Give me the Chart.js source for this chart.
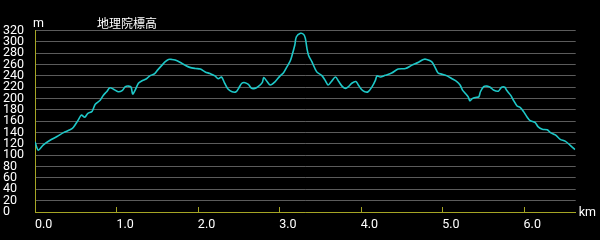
<!DOCTYPE html>
<html>
<head>
<meta charset="utf-8">
<script src="https://cdn.jsdelivr.net/npm/chart.js@4"></script>
<style>
  html, body { margin: 0; padding: 0; background: #000; }
  #wrap { position: relative; width: 600px; height: 240px; }
</style>
</head>
<body>
<div id="wrap"><canvas id="elevChart"></canvas></div>
<script>
// distance along the route (km) and elevation (m)
const distKm = [0.00,0.04,0.10,0.18,0.27,0.35,0.43,0.47,0.53,0.57,
  0.61,0.65,0.70,0.74,0.80,0.84,0.88,0.92,0.97,1.02,
  1.07,1.11,1.15,1.18,1.20,1.23,1.27,1.31,1.37,1.41,
  1.47,1.51,1.56,1.60,1.64,1.68,1.72,1.78,1.84,1.90,
  1.97,2.03,2.09,2.15,2.21,2.25,2.29,2.33,2.37,2.42,
  2.47,2.50,2.54,2.58,2.62,2.66,2.70,2.74,2.79,2.81,
  2.85,2.89,2.95,3.01,3.05,3.09,3.13,3.15,3.19,3.21,
  3.26,3.30,3.32,3.34,3.36,3.40,3.46,3.52,3.56,3.60,
  3.64,3.69,3.73,3.77,3.81,3.85,3.89,3.94,3.97,4.01,
  4.05,4.09,4.14,4.18,4.20,4.24,4.30,4.38,4.46,4.55,
  4.63,4.71,4.77,4.81,4.87,4.91,4.95,5.00,5.06,5.12,
  5.18,5.22,5.25,5.28,5.32,5.34,5.37,5.41,5.45,5.47,
  5.51,5.55,5.59,5.63,5.69,5.73,5.77,5.79,5.84,5.88,
  5.92,5.96,6.00,6.04,6.08,6.14,6.18,6.23,6.29,6.33,
  6.39,6.45,6.51,6.57,6.63];
const elevM = [124,109,118,126,133,140,145,149,162,171,
  167,174,177,190,197,206,212,219,216,212,
  214,221,222,220,208,215,227,231,235,240,
  244,251,259,265,269,269,268,264,259,255,
  253,252,247,244,240,235,238,227,217,212,
  212,218,227,228,225,218,218,221,228,237,
  230,224,230,240,245,255,265,273,294,309,
  315,313,306,288,276,265,247,241,233,224,
  230,238,230,222,218,221,227,230,224,216,
  212,212,221,232,240,238,241,245,252,253,
  259,264,269,269,265,256,245,243,240,235,
  230,224,215,210,203,196,200,202,203,212,
  221,222,220,215,213,220,220,215,206,196,
  187,184,177,168,161,158,150,146,145,140,
  136,128,125,118,110];

const chartTitle = '地理院標高';
const yUnit = 'm';
const xUnit = 'km';
const xMax = 6.64;
const yMax = 320;

const axisColor = '#a5a524';
const gridColor = '#5c5c5c';
const lineColor = '#1ec8c8';

Chart.defaults.font.family = 'Roboto';
Chart.defaults.font.size = 12.5;
Chart.defaults.color = '#ffffff';

// small inward tick marks on the x axis + unit / title texts
const axisDecor = {
  id: 'axisDecor',
  afterDraw(chart) {
    const { ctx, chartArea: area, scales: { x } } = chart;
    ctx.save();
    ctx.strokeStyle = axisColor;
    ctx.lineWidth = 1;
    x.ticks.forEach(t => {
      const px = Math.round(x.getPixelForValue(t.value)) + 0.5;
      ctx.beginPath();
      ctx.moveTo(px, area.bottom - 5);
      ctx.lineTo(px, area.bottom);
      ctx.stroke();
    });
    ctx.fillStyle = '#ffffff';
    ctx.font = '12.5px Roboto';
    ctx.textAlign = 'left';
    ctx.textBaseline = 'alphabetic';
    ctx.fillText(yUnit, area.left - 2, area.top - 4);
    ctx.fillText(xUnit, area.right + 3, area.bottom + 3.5);
    ctx.textAlign = 'center';
    ctx.textBaseline = 'middle';
    ctx.font = '12px "Noto Sans CJK JP"';
    ctx.fillText(chartTitle, area.left + 92, area.top - 7.5);
    ctx.restore();
  }
};

const ctx = document.getElementById('elevChart').getContext('2d');
new Chart(ctx, {
  type: 'line',
  data: {
    datasets: [{
      data: distKm.map((d, i) => ({ x: d, y: elevM[i] })),
      borderColor: lineColor,
      borderWidth: 1.6,
      pointRadius: 0,
      tension: 0.3,
      fill: false
    }]
  },
  options: {
    responsive: true,
    maintainAspectRatio: false,
    animation: false,
    layout: { padding: { left: 3, right: 24.3, top: 30.5, bottom: 0 } },
    plugins: {
      legend: { display: false },
      tooltip: { enabled: false }
    },
    scales: {
      x: {
        type: 'linear',
        min: 0,
        max: xMax,
        grid: { display: false, drawTicks: false },
        border: { display: true, color: axisColor, width: 1 },
        ticks: {
          stepSize: 1,
          includeBounds: false,
          autoSkip: false,
          maxRotation: 0,
          align: 'start',
          padding: 5,
          callback: v => v.toFixed(1)
        },
        afterFit: s => { s.height = 28; }
      },
      y: {
        min: 0,
        max: yMax,
        grid: { color: gridColor, lineWidth: 1, drawTicks: false },
        border: { display: true, color: axisColor, width: 1 },
        ticks: {
          stepSize: 20,
          autoSkip: false,
          crossAlign: 'far'
        },
        afterFit: s => { s.width = 32; }
      }
    }
  },
  plugins: [axisDecor]
});
</script>
</body>
</html>
